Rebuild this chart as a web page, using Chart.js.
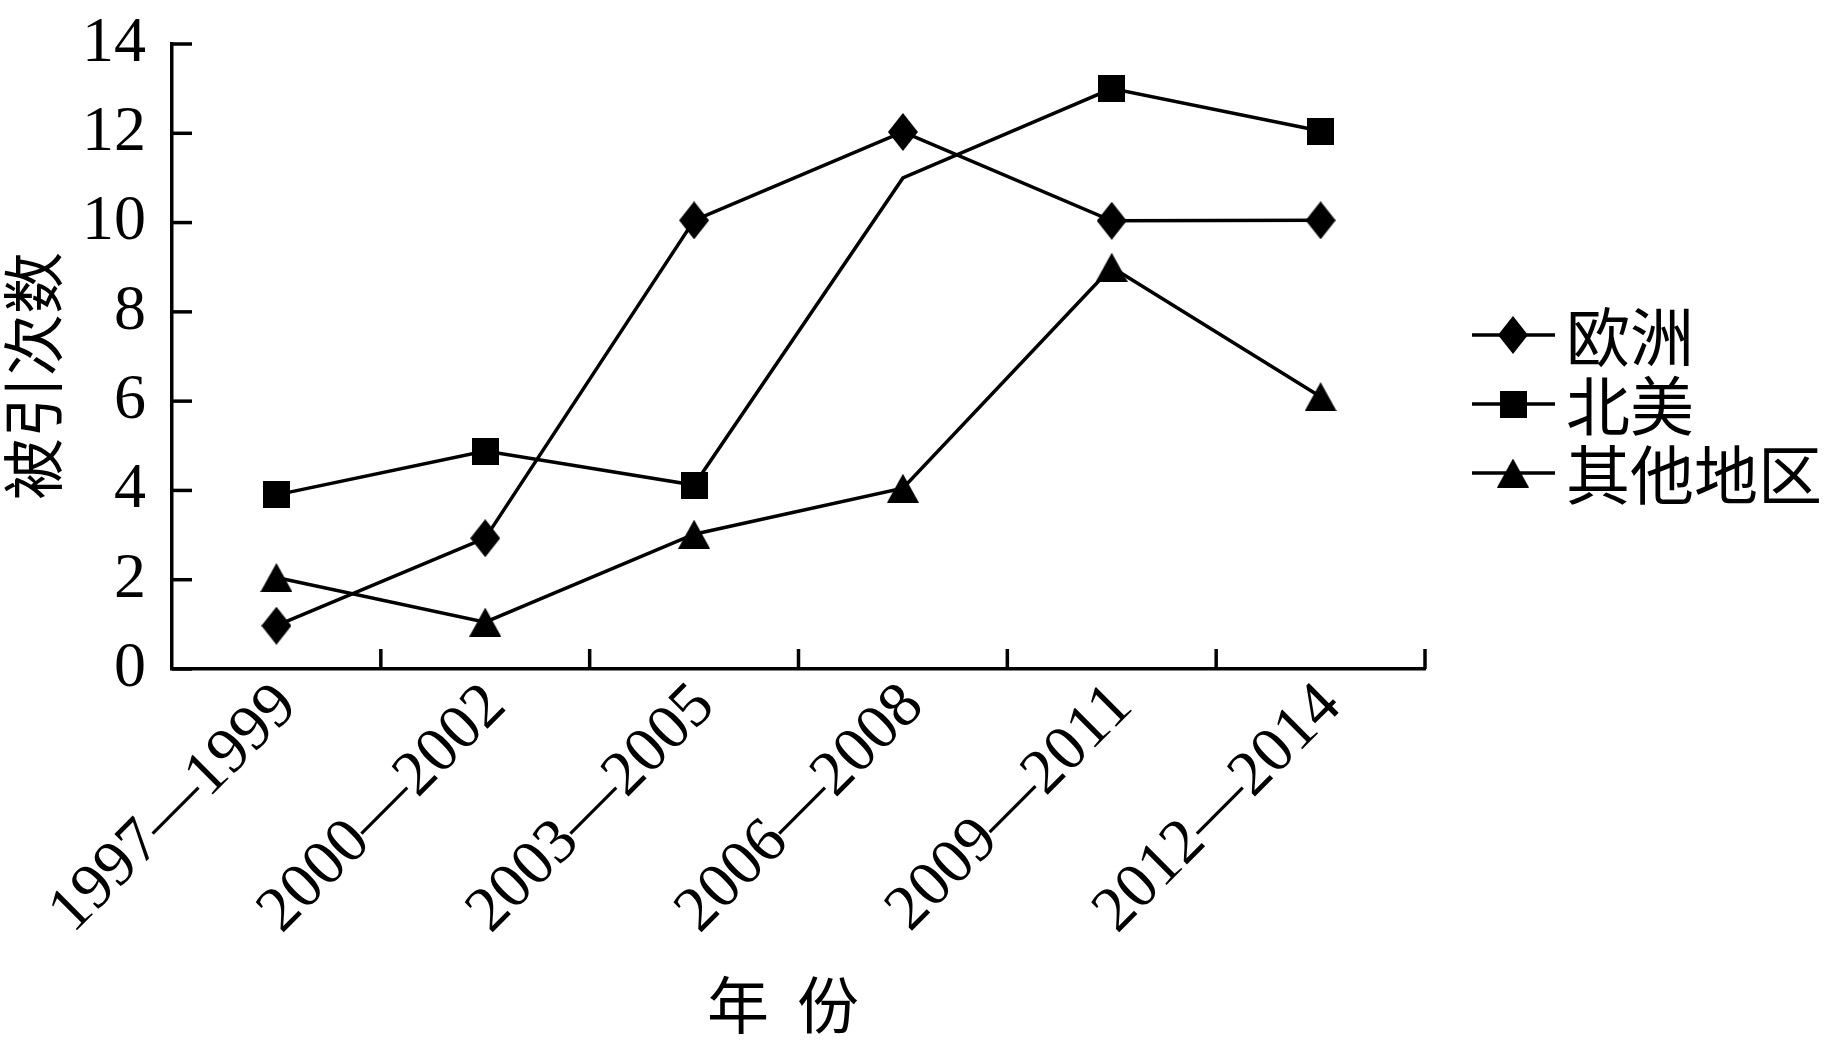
<!DOCTYPE html>
<html><head><meta charset="utf-8">
<script src="https://cdn.jsdelivr.net/npm/chart.js@4/dist/chart.umd.min.js"></script>
<style>html,body{margin:0;padding:0;background:#fff}#wrap{width:1832px;height:1041px;position:relative}</style>
</head><body><div id="wrap"><canvas id="c" width="1832" height="1041"></canvas></div>
<script>
// ---- data ----
const categories = ['1997—1999', '2000—2002', '2003—2005', '2006—2008', '2009—2011', '2012—2014'];
const europe = [0.97, 2.93, 10.05, 12.03, 10.04, 10.05];
const northAmerica = [3.9, 4.88, 4.12, 11.0, 13.0, 12.05];
const otherRegions = [2.05, 1.05, 3.02, 4.05, 9.0, 6.1];
const seriesNames = ['欧洲', '北美', '其他地区'];
const yTitle = '被引次数';
const xTitle = '年  份';
const yMin = 0, yMax = 14, yStep = 2;

// ---- marker images ----
function makeMarker(kind) {
  const c = document.createElement('canvas');
  let w, h;
  if (kind === 'diamond') { w = 30; h = 38; }
  else if (kind === 'square') { w = 27; h = 27; }
  else { w = 32; h = 29; }
  c.width = w; c.height = h;
  const g = c.getContext('2d');
  g.fillStyle = '#000';
  g.beginPath();
  if (kind === 'diamond') { g.moveTo(w/2, 0); g.lineTo(w, h/2); g.lineTo(w/2, h); g.lineTo(0, h/2); }
  else if (kind === 'square') { g.rect(0, 0, w, h); }
  else { g.moveTo(w/2, 0); g.lineTo(w, h); g.lineTo(0, h); }
  g.closePath(); g.fill();
  return c;
}
const markers = [makeMarker('diamond'), makeMarker('square'), makeMarker('triangle')];

const serif = "'Liberation Serif', 'Times New Roman', serif";
const cjk = "'Noto Sans CJK SC', 'Liberation Serif', sans-serif";

const insideTicks = {
  id: 'insideTicks',
  afterDraw(chart) {
    const { ctx, chartArea: a, scales: { x, y } } = chart;
    ctx.save();
    ctx.strokeStyle = '#000';
    ctx.lineWidth = 3.5;
    y.ticks.forEach(t => {
      const py = y.getPixelForValue(t.value);
      ctx.beginPath(); ctx.moveTo(a.left, py); ctx.lineTo(a.left + 20, py); ctx.stroke();
    });
    for (let i = 1; i <= categories.length; i++) {
      const px = x.getPixelForValue(i - 0.5);
      ctx.beginPath(); ctx.moveTo(px, a.bottom); ctx.lineTo(px, a.bottom - 20); ctx.stroke();
    }
    ctx.restore();
  }
};

const axisTitles = {
  id: 'axisTitles',
  afterDraw(chart) {
    const { ctx } = chart;
    ctx.save();
    ctx.fillStyle = '#000';
    ctx.textAlign = 'center';
    ctx.textBaseline = 'middle';
    ctx.font = '62px ' + cjk;
    ctx.translate(33, 376);
    ctx.rotate(-Math.PI / 2);
    ctx.fillText(yTitle, 0, 0);
    ctx.restore();
    ctx.save();
    ctx.fillStyle = '#000';
    ctx.textAlign = 'center';
    ctx.textBaseline = 'middle';
    ctx.font = '62px ' + cjk;
    ctx.fillText(xTitle, 783, 1005);
    ctx.restore();
  }
};

const customLegend = {
  id: 'customLegend',
  afterDraw(chart) {
    const { ctx } = chart;
    ctx.save();
    chart.data.datasets.forEach((ds, i) => {
      const cy = 335 + i * 69;
      ctx.strokeStyle = '#000';
      ctx.lineWidth = 3.5;
      ctx.beginPath(); ctx.moveTo(1472, cy); ctx.lineTo(1555, cy); ctx.stroke();
      const m = ds.pointStyle;
      ctx.drawImage(m, 1513 - m.width / 2, cy - m.height / 2);
      ctx.fillStyle = '#000';
      ctx.font = '64px ' + cjk;
      ctx.textBaseline = 'middle';
      ctx.textAlign = 'left';
      ctx.fillText(ds.label, 1566, cy + 2);
    });
    ctx.restore();
  }
};

const seriesData = [europe, northAmerica, otherRegions];
const datasets = seriesData.map((d, i) => ({
  label: seriesNames[i],
  data: d,
  borderColor: '#000',
  backgroundColor: '#000',
  borderWidth: 3.5,
  pointStyle: markers[i],
  pointRadius: i === 1 ? [10, 10, 10, 0, 10, 10] : 10,
  tension: 0,
  fill: false
}));

new Chart(document.getElementById('c'), {
  type: 'line',
  data: { labels: categories, datasets },
  options: {
    responsive: false,
    animation: false,
    devicePixelRatio: 1,
    layout: { padding: { top: 44, right: 407, left: 0, bottom: 0 } },
    plugins: { legend: { display: false }, tooltip: { enabled: false } },
    scales: {
      x: {
        offset: true,
        grid: { display: false, drawTicks: false },
        border: { display: true, color: '#000', width: 3.5 },
        ticks: { color: '#000', font: { family: serif, size: 64 }, minRotation: 45, maxRotation: 45, autoSkip: false, padding: 0, labelOffset: 11 },
        title: { display: false },
        afterFit(s) { s.height = 372; s.paddingLeft = 0; s.paddingRight = 0; }
      },
      y: {
        min: yMin, max: yMax,
        grid: { display: false, drawTicks: false },
        border: { display: true, color: '#000', width: 3.5 },
        ticks: { stepSize: yStep, color: '#000', font: { family: serif, size: 64 }, padding: 26 },
        title: { display: false },
        afterFit(s) { s.width = 172; s.paddingTop = 0; s.paddingBottom = 0; }
      }
    }
  },
  plugins: [insideTicks, axisTitles, customLegend]
});
</script>
</body></html>
